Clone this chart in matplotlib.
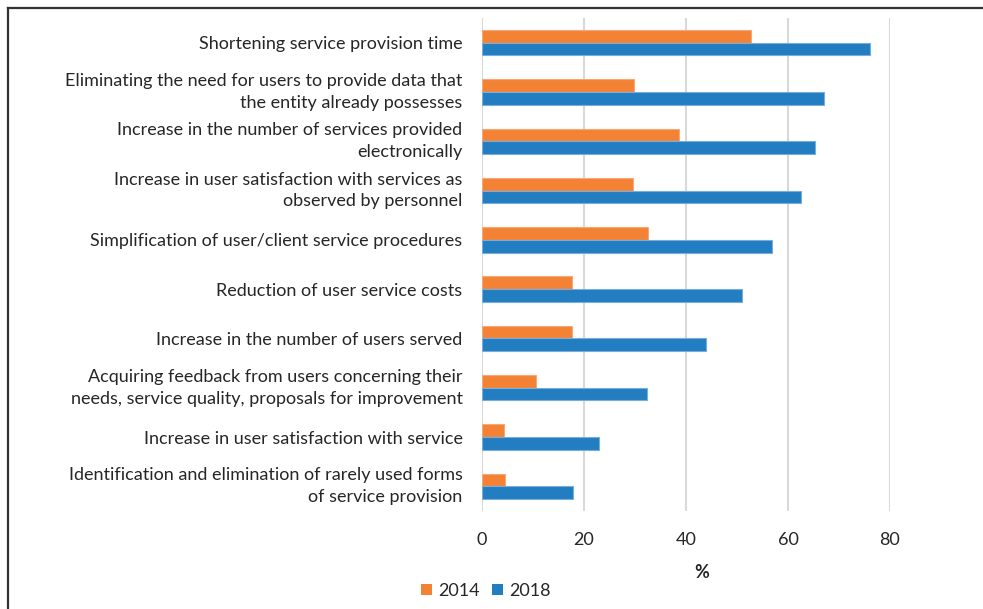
import numpy as np
import matplotlib
matplotlib.use("Agg")
import matplotlib.pyplot as plt
from matplotlib.lines import Line2D
from matplotlib.patches import Patch

plt.rcParams['font.family'] = ['Lato', 'DejaVu Sans']

categories = [
    'Shortening service provision time',
    'Eliminating the need for users to provide data that\nthe entity already possesses',
    'Increase in the number of services provided\nelectronically',
    'Increase in user satisfaction with services as\nobserved by personnel',
    'Simplification of user/client service procedures',
    'Reduction of user service costs',
    'Increase in the number of users served',
    'Acquiring feedback from users concerning their\nneeds, service quality, proposals for improvement',
    'Increase in user satisfaction with service',
    'Identification and elimination of rarely used forms\nof service provision',
]
y2014 = [52.7, 29.9, 38.6, 29.7, 32.5, 17.7, 17.7, 10.6, 4.4, 4.5]
y2018 = [76.1, 67.1, 65.2, 62.6, 56.8, 51.0, 43.9, 32.3, 22.9, 17.8]
years = ['2014', '2018']
xticks = [0, 20, 40, 60, 80]

c14 = '#F38235'
c18 = '#227DC1'
txt = '#262626'
fs = 13

W, H = 983, 609
fig = plt.figure(figsize=(W / 100, H / 100), dpi=100)
ax = fig.add_axes([482 / W, 1 - 511 / H, (890 - 482) / W, (511 - 18) / H])

pos = np.arange(len(categories))
h = 0.258
ax.barh(pos - h / 2, y2014, height=h, color=c14, edgecolor='#F7A878', linewidth=0.8, zorder=3)
ax.barh(pos + h / 2, y2018, height=h, color=c18, edgecolor='#79AEDC', linewidth=0.8, zorder=3)

ax.set_ylim(len(categories) - 0.5, -0.5)
ax.set_xlim(0, 80)
ax.set_xticks(xticks)
ax.set_yticks(pos)
ax.set_yticklabels(categories, fontsize=fs, color=txt, linespacing=1.45)
# two-line labels centred on the group
for lab in ax.get_yticklabels():
    if '\n' in lab.get_text():
        lab.set_va('center')
ax.tick_params(axis='y', length=0, pad=14)
ax.tick_params(axis='x', length=0, pad=15, labelsize=fs, labelcolor=txt)
for s in ax.spines.values():
    s.set_visible(False)
ax.grid(axis='x', color='#D9D9D9', linewidth=1.5, zorder=0)
ax.set_axisbelow(True)

fig.text(702 / W, 1 - 573 / H, '%', fontsize=fs, fontweight='bold', color=txt,
         ha='center', va='center')

handles = [Patch(facecolor=c14), Patch(facecolor=c18)]
fig.legend(handles, years, loc='center', bbox_to_anchor=(486 / W, 1 - 591 / H), ncol=2,
           frameon=False, fontsize=fs, handlelength=0.6, handleheight=0.6,
           handletextpad=0.35, columnspacing=0.7, labelcolor=txt)

# outer frame (left and top edges visible)
fig.add_artist(Line2D([8 / W, 8 / W], [0, 1 - 8 / H], color='#333333', linewidth=1.6))
fig.add_artist(Line2D([8 / W, 1], [1 - 8 / H, 1 - 8 / H], color='#333333', linewidth=1.6))

fig.savefig('out.png', dpi=100)
